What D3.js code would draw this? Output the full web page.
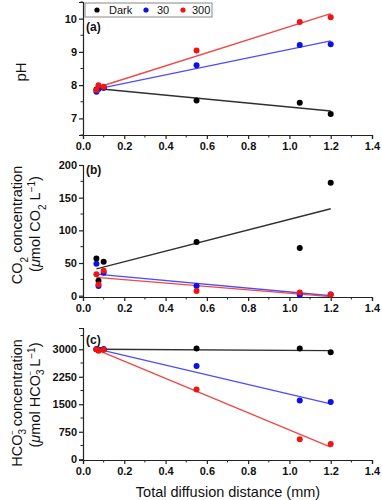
<!DOCTYPE html>
<html><head><meta charset="utf-8">
<script src="https://cdn.jsdelivr.net/npm/d3@7"></script>
<style>
body{margin:0;background:#fff;}
svg{display:block;}
text{font-family:"Liberation Sans",Arial,sans-serif;}
</style></head>
<body>
<script>
// ---------- data ----------
const seriesNames = ["Dark", "30", "300"];
const distance = [0.065, 0.075, 0.1, 0.55, 1.05, 1.2];
const xTicks = [0, 0.2, 0.4, 0.6, 0.8, 1.0, 1.2, 1.4];

// (a) pH
const phDark = [7.87, 7.9, 7.92, 7.54, 7.47, 7.13];
const ph30   = [7.8, 7.88, 7.93, 8.6, 9.21, 9.23];
const ph300  = [7.85, 8.0, 7.95, 9.04, 9.9, 10.04];
const phFitDark = [[0.065, 7.9], [1.2, 7.22]];
const phFit30   = [[0.065, 7.88], [1.2, 9.33]];
const phFit300  = [[0.065, 7.92], [1.2, 10.15]];
const phTicks = [7, 8, 9, 10];

// (b) CO2
const co2Dark = [57, 23, 52, 82, 73, 173];
const co230   = [49, 15, 35, 15, 1, 2];
const co2300  = [33, 17, 38, 7, 5, 2];
const co2FitDark = [[0.065, 41], [1.2, 133]];
const co2Fit30   = [[0.065, 33], [1.2, 0]];
const co2Fit300  = [[0.065, 28], [1.2, -1.5]];
const co2Ticks = [0, 50, 100, 150, 200];

// (c) HCO3-
const hcoDark = [3000, 2990, 3000, 3018, 3018, 2918];
const hco30   = [3000, 2990, 3000, 2545, 1600, 1564];
const hco300  = [3000, 2960, 2990, 1900, 545, 418];
const hcoFitDark = [[0.065, 3000], [1.2, 2964]];
const hcoFit30   = [[0.065, 3010], [1.2, 1510]];
const hcoFit300  = [[0.065, 2990], [1.2, 330]];
const hcoTicks = [0, 750, 1500, 2250, 3000];

// ---------- styles ----------
const dotColors = ["#000000", "#1010e0", "#ee1515"];
const lineColors = ["#303030", "#4d4dff", "#f04848"];

const W = 382, H = 500;
const svg = d3.select("body").append("svg").attr("width", W).attr("height", H);

const x = d3.scaleLinear().domain([0, 1.4]).range([83, 372]);

const panels = [
  {label: "(a)", domain: [6.5, 10.5], range: [135, 2], ticks: phTicks, minor: [6.5,7.5,8.5,9.5,10.5],
   data: [phDark, ph30, ph300], fits: [phFitDark, phFit30, phFit300], labelY: 27},
  {label: "(b)", domain: [-2, 200], range: [297, 165], ticks: co2Ticks, minor: [25,75,125,175],
   data: [co2Dark, co230, co2300], fits: [co2FitDark, co2Fit30, co2Fit300], labelY: 170},
  {label: "(c)", domain: [-20, 3580], range: [460, 328], ticks: hcoTicks, minor: [375,1125,1875,2625,3375],
   data: [hcoDark, hco30, hco300], fits: [hcoFitDark, hcoFit30, hcoFit300], labelY: 340}
];

const tickFont = "bold 11px 'Liberation Sans', Arial, sans-serif";

panels.forEach((p) => {
  const y = d3.scaleLinear().domain(p.domain).range(p.range);
  const g = svg.append("g");
  const y0 = p.range[0];

  const xa = g.append("g").attr("transform", `translate(0,${y0})`)
    .call(d3.axisBottom(x).tickValues(xTicks).tickFormat(d3.format(".1f")).tickSizeOuter(0).tickSize(4).tickPadding(3));
  xa.select(".domain").attr("stroke", "#222").attr("stroke-width", 1.2);
  xa.selectAll(".tick line").attr("stroke", "#222").attr("stroke-width", 1.2);
  xa.selectAll("text").style("font", tickFont).attr("fill", "#111");
  g.append("g").selectAll("line").data(d3.range(0.1, 1.4, 0.2)).join("line")
    .attr("x1", d => x(d)).attr("x2", d => x(d)).attr("y1", y0).attr("y2", y0 + 2.5)
    .attr("stroke", "#222").attr("stroke-width", 1);

  const ya = g.append("g").attr("transform", `translate(${x(0)},0)`)
    .call(d3.axisLeft(y).tickValues(p.ticks).tickFormat(d3.format("d")).tickSizeOuter(0).tickSize(4).tickPadding(2));
  ya.select(".domain").attr("stroke", "#222").attr("stroke-width", 1.2);
  ya.selectAll(".tick line").attr("stroke", "#222").attr("stroke-width", 1.2);
  ya.selectAll("text").style("font", tickFont).attr("fill", "#111");
  g.append("g").selectAll("line").data(p.minor).join("line")
    .attr("x1", x(0)).attr("x2", x(0) - 2.5).attr("y1", d => y(d)).attr("y2", d => y(d))
    .attr("stroke", "#222").attr("stroke-width", 1);

  const line = d3.line().x(d => x(d[0])).y(d => y(d[1]));
  p.fits.forEach((f, i) => {
    g.append("path").attr("d", line(f)).attr("fill", "none")
      .attr("stroke", lineColors[i]).attr("stroke-width", 1.4);
  });

  p.data.forEach((vals, i) => {
    g.append("g").selectAll("circle").data(vals).join("circle")
      .attr("cx", (d, k) => x(distance[k])).attr("cy", d => y(d)).attr("r", 3)
      .attr("fill", dotColors[i]);
  });

  g.append("text").attr("x", 86).attr("y", p.labelY + 4).text(p.label)
    .style("font", "bold 12px 'Liberation Sans', Arial, sans-serif").attr("fill", "#111");
});

// legend
const lg = svg.append("g");
lg.append("rect").attr("x", 85).attr("y", 3).attr("width", 127).attr("height", 14)
  .attr("fill", "#fff").attr("stroke", "#888").attr("stroke-width", 1);
const legX = [97, 146, 183];
const legTX = [109, 157, 192];
seriesNames.forEach((s, i) => {
  lg.append("circle").attr("cx", legX[i]).attr("cy", 10).attr("r", 2.6).attr("fill", dotColors[i]);
  lg.append("text").attr("x", legTX[i]).attr("y", 14).text(s)
    .style("font", "11px 'Liberation Sans', Arial, sans-serif").attr("fill", "#111");
});

// axis titles
const titleFont = "14.5px 'Liberation Sans', Arial, sans-serif";
svg.append("text").attr("transform", "translate(26,72) rotate(-90)").attr("text-anchor", "middle")
  .style("font", "15px 'Liberation Sans', Arial, sans-serif").attr("fill", "#111").text("pH");

function rot(xc, yc) { return `translate(${xc},${yc}) rotate(-90)`; }

let t = svg.append("text").attr("transform", rot(22, 225)).attr("text-anchor", "middle")
  .style("font", titleFont).attr("fill", "#111");
t.append("tspan").text("CO");
t.append("tspan").text("2").attr("baseline-shift", "sub").style("font-size", "10px");
t.append("tspan").text(" concentration");
t = svg.append("text").attr("transform", rot(40, 224)).attr("text-anchor", "middle")
  .style("font", titleFont).attr("fill", "#111");
t.append("tspan").text("(");
t.append("tspan").text("μ").style("font-style", "italic");
t.append("tspan").text("mol CO");
t.append("tspan").text("2").attr("baseline-shift", "sub").style("font-size", "10px");
t.append("tspan").text(" L");
t.append("tspan").text("−1").attr("baseline-shift", "super").style("font-size", "10px");
t.append("tspan").text(")");

t = svg.append("text").attr("transform", rot(22, 403)).attr("text-anchor", "middle")
  .style("font", titleFont).attr("fill", "#111");
t.append("tspan").text("HCO");
t.append("tspan").text("3").attr("dy", 4).style("font-size", "10px");
t.append("tspan").text("−").attr("dx", -6).attr("dy", -11).style("font-size", "8px");
t.append("tspan").text(" concentration").attr("dy", 7);
t = svg.append("text").attr("transform", rot(40, 395)).attr("text-anchor", "middle")
  .style("font", titleFont).attr("fill", "#111");
t.append("tspan").text("(");
t.append("tspan").text("μ").style("font-style", "italic");
t.append("tspan").text("mol HCO");
t.append("tspan").text("3").attr("dy", 4).style("font-size", "10px");
t.append("tspan").text("−").attr("dx", -6).attr("dy", -11).style("font-size", "8px");
t.append("tspan").text(" L").attr("dy", 7);
t.append("tspan").text("−1").attr("baseline-shift", "super").style("font-size", "10px");
t.append("tspan").text(")");

svg.append("text").attr("x", 228).attr("y", 497).attr("text-anchor", "middle")
  .style("font", "14.5px 'Liberation Sans', Arial, sans-serif").attr("fill", "#111")
  .text("Total diffusion distance (mm)");
</script>
</body></html>
